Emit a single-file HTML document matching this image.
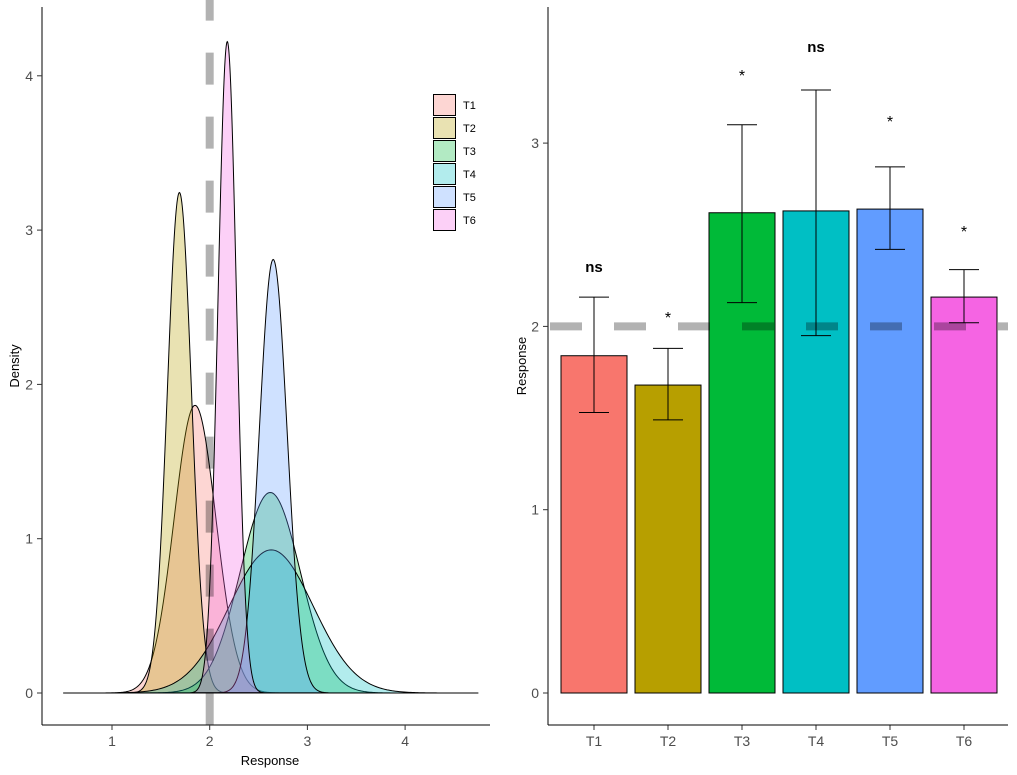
<!DOCTYPE html>
<html><head><meta charset="utf-8"><style>
body{margin:0;background:#fff;}
svg{display:block;font-family:"Liberation Sans",sans-serif;}
</style></head><body>
<svg id="c" width="1017" height="775" viewBox="0 0 1017 775"></svg>
<script>
const groups=["T1","T2","T3","T4","T5","T6"];
const colors=["#F8766D","#B79F00","#00BA38","#00BFC4","#619CFF","#F564E3"];
const densMeans=[1.85,1.69,2.62,2.63,2.65,2.18];
const densSds=[0.214,0.123,0.307,0.43,0.142,0.0945];
const leftXTicks=[1,2,3,4];
const leftYTicks=[0,1,2,3,4];
const barValues=[1.84,1.68,2.62,2.63,2.64,2.16];
const errLow=[1.53,1.49,2.13,1.95,2.42,2.02];
const errHigh=[2.16,1.88,3.10,3.29,2.87,2.31];
const sigLabels=["ns","*","*","ns","*","*"];
const sigY=[2.33,2.03,3.35,3.53,3.1,2.5];
const rightYTicks=[0,1,2,3];
const refLine=2;

const NS="http://www.w3.org/2000/svg";
const svg=document.getElementById('c');
function mk(t,a,p){const e=document.createElementNS(NS,t);for(const k in a)e.setAttribute(k,a[k]);(p||svg).appendChild(e);return e;}
const lx=v=>112+(v-1)*97.7, ly=v=>693-v*154.3;
const rx=i=>594+i*74, ry=v=>693-v*183.3;

const gL=mk('g',{});
const base=mk('line',{x1:lx(0.5),x2:lx(4.75),y1:ly(0),y2:ly(0),stroke:'#000','stroke-width':1},gL);

densMeans.forEach((m,i)=>{
  const s=densSds[i];let d='';
  for(let k=0;k<=200;k++){const x=m-4*s+8*s*k/200;const y=Math.exp(-0.5*((x-m)/s)**2)/(s*Math.sqrt(2*Math.PI));d+=(k?'L':'M')+lx(x).toFixed(2)+','+ly(y).toFixed(2);}
  const p=mk('path',{d:d+'Z',fill:colors[i],'fill-opacity':0.3,stroke:'#000','stroke-width':1},gL);
  
});
const vl=mk('line',{x1:lx(2),x2:lx(2),y1:ly(4.5)-20,y2:725,stroke:'rgba(0,0,0,0.3)','stroke-width':8,'stroke-dasharray':'32 32','stroke-dashoffset':'-10'},gL);

mk('line',{x1:42,x2:42,y1:7,y2:725,stroke:'#000'},gL);
mk('line',{x1:42,x2:490,y1:725,y2:725,stroke:'#000'},gL);
leftXTicks.forEach(v=>{mk('line',{x1:lx(v),x2:lx(v),y1:725,y2:730,stroke:'#333'},gL);
  const t=mk('text',{x:lx(v),y:746,'text-anchor':'middle','font-size':14,fill:'#4d4d4d'},gL);t.textContent=v;
  });
leftYTicks.forEach(v=>{mk('line',{x1:37,x2:42,y1:ly(v),y2:ly(v),stroke:'#333'},gL);
  const t=mk('text',{x:33,y:ly(v)+5,'text-anchor':'end','font-size':14,fill:'#4d4d4d'},gL);t.textContent=v;
  });
let t=mk('text',{x:270,y:765,'text-anchor':'middle','font-size':13},gL);t.textContent='Response';

t=mk('text',{x:19,y:366,'text-anchor':'middle','font-size':13,transform:'rotate(-90 19 366)'},gL);t.textContent='Density';

const lg=mk('g',{},gL);
groups.forEach((g,i)=>{const y=94+i*23;
  const e=mk('g',{},lg);
  mk('rect',{x:433.5,y:y+0.5,width:22,height:21,fill:colors[i],'fill-opacity':0.3,stroke:'#000'},e);
  const tt=mk('text',{x:463,y:y+15,'font-size':11},e);tt.textContent=g;});

const gR=mk('g',{});
barValues.forEach((v,i)=>{
  const b=mk('rect',{x:rx(i)-33,y:ry(v),width:66,height:ry(0)-ry(v),fill:colors[i],stroke:'#000','stroke-width':1},gR);
  
});
const hl=mk('line',{x1:550,x2:1008,y1:ry(refLine),y2:ry(refLine),stroke:'rgba(0,0,0,0.3)','stroke-width':8,'stroke-dasharray':'32 32'},gR);

barValues.forEach((v,i)=>{
  const e=mk('g',{stroke:'#000','stroke-width':1},gR);
  mk('line',{x1:rx(i),x2:rx(i),y1:ry(errLow[i]),y2:ry(errHigh[i])},e);
  mk('line',{x1:rx(i)-15,x2:rx(i)+15,y1:ry(errLow[i]),y2:ry(errLow[i])},e);
  mk('line',{x1:rx(i)-15,x2:rx(i)+15,y1:ry(errHigh[i]),y2:ry(errHigh[i])},e);
  const star=sigLabels[i]=='*';
  const s=mk('text',{x:rx(i),y:ry(sigY[i])+(star?2:6),'text-anchor':'middle','font-size':star?16:15,'font-weight':star?'normal':'bold'},gR);
  s.textContent=sigLabels[i];
  mk('line',{x1:rx(i),x2:rx(i),y1:725,y2:730,stroke:'#333'},gR);
  const tl=mk('text',{x:rx(i),y:746,'text-anchor':'middle','font-size':14,fill:'#4d4d4d'},gR);tl.textContent=groups[i];
  
});
mk('line',{x1:548,x2:548,y1:7,y2:725,stroke:'#000'},gR);
mk('line',{x1:548,x2:1008,y1:725,y2:725,stroke:'#000'},gR);
rightYTicks.forEach(v=>{mk('line',{x1:543,x2:548,y1:ry(v),y2:ry(v),stroke:'#333'},gR);
  const tt=mk('text',{x:539,y:ry(v)+5,'text-anchor':'end','font-size':14,fill:'#4d4d4d'},gR);tt.textContent=v;
  });
t=mk('text',{x:526,y:366,'text-anchor':'middle','font-size':13,transform:'rotate(-90 526 366)'},gR);t.textContent='Response';

</script>
</body></html>
